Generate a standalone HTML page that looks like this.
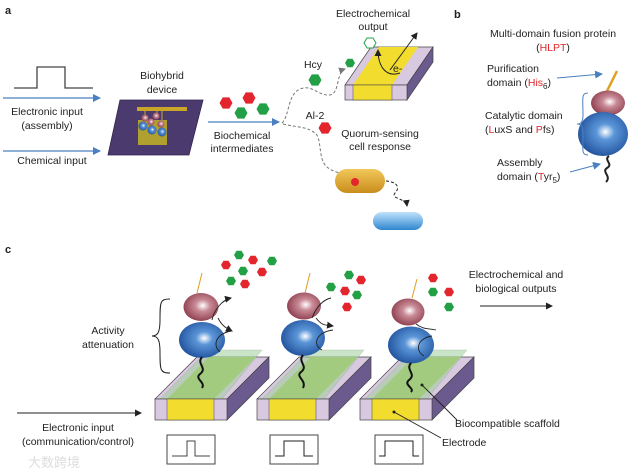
<!DOCTYPE html>
<html><head><meta charset="utf-8"><style>
html,body{margin:0;padding:0;background:#fff;}
svg{display:block;}
text{font-family:"Liberation Sans",sans-serif;font-size:10.5px;fill:#222;}
.b{font-weight:bold;font-size:11px;}
.r{fill:#e0262b;}
</style></head><body>
<svg width="638" height="473" viewBox="0 0 638 473" xmlns="http://www.w3.org/2000/svg">
<defs>
<polygon id="h" points="-6.5,0 -3.3,-5.6 3.3,-5.6 6.5,0 3.3,5.6 -3.3,5.6"/>
<polygon id="hs" points="-5,0 -2.5,-4.3 2.5,-4.3 5,0 2.5,4.3 -2.5,4.3"/>
<radialGradient id="gr" cx="0.55" cy="0.45" r="0.6"><stop offset="0" stop-color="#fff"/><stop offset="0.35" stop-color="#c98a96"/><stop offset="1" stop-color="#8a3a4a"/></radialGradient>
<radialGradient id="gb" cx="0.55" cy="0.45" r="0.6"><stop offset="0" stop-color="#fff"/><stop offset="0.3" stop-color="#5b96d8"/><stop offset="1" stop-color="#1e4f9a"/></radialGradient>
<linearGradient id="go" x1="0" y1="0" x2="0" y2="1"><stop offset="0" stop-color="#f2c75a"/><stop offset="1" stop-color="#c98d1c"/></linearGradient>
<linearGradient id="gc" x1="0" y1="0" x2="0" y2="1"><stop offset="0" stop-color="#bfe3fb"/><stop offset="1" stop-color="#2f86d0"/></linearGradient>
<marker id="ab" markerWidth="8" markerHeight="8" refX="7" refY="4" orient="auto" markerUnits="userSpaceOnUse"><path d="M0,0 L8,4 L0,8 z" fill="#4a7fc0"/></marker>
<marker id="ak" markerWidth="7" markerHeight="7" refX="6" refY="3.5" orient="auto" markerUnits="userSpaceOnUse"><path d="M0,0 L7,3.5 L0,7 z" fill="#222"/></marker>
<marker id="ag" markerWidth="7" markerHeight="7" refX="6" refY="3.5" orient="auto" markerUnits="userSpaceOnUse"><path d="M0,0 L7,3.5 L0,7 z" fill="#777"/></marker>
<g id="blk">
 <polygon points="155,399 227,399 269,357 197,357" fill="#d9c9e0" stroke="#444" stroke-width="0.7"/>
 <polygon points="167,399 214,399 256,357 209,357" fill="#a8c860"/>
 <polygon points="160,399 222,399 262,350 208,350" fill="#9fcf9a" opacity="0.55" stroke="#7a9a7a" stroke-width="0.5"/>
 <polygon points="227,399 269,357 269,378 227,420" fill="#6a5a8e" stroke="#444" stroke-width="0.7"/>
 <rect x="155" y="399" width="72" height="21" fill="#d9c9e0" stroke="#444" stroke-width="0.7"/>
 <rect x="167" y="399" width="47" height="21" fill="#f2dc2e" stroke="#444" stroke-width="0.5"/>
</g>
</defs>

<!-- Panel a -->
<text x="5" y="14" class="b">a</text>
<polyline points="14,88 37,88 37,67 65,67 65,88 93,88" fill="none" stroke="#444" stroke-width="1.3"/>
<line x1="3" y1="98" x2="100" y2="98" stroke="#4a7fc0" stroke-width="1.2" marker-end="url(#ab)"/>
<text x="47" y="115" text-anchor="middle">Electronic input</text>
<text x="47" y="129" text-anchor="middle">(assembly)</text>
<line x1="3" y1="151" x2="100" y2="151" stroke="#4a7fc0" stroke-width="1.2" marker-end="url(#ab)"/>
<text x="52" y="164" text-anchor="middle">Chemical input</text>
<text x="162" y="79" text-anchor="middle">Biohybrid</text>
<text x="162" y="93" text-anchor="middle">device</text>
<polygon points="108,155 120,100 203,100 189,155" fill="#4a3a6e" stroke="#332650" stroke-width="0.8"/>
<rect x="137" y="107" width="50" height="4" fill="#c9a528"/>
<rect x="138" y="120" width="29" height="25" fill="#b0a030"/>
<g stroke="#c9a528" stroke-width="1"><line x1="145" y1="111" x2="145" y2="118"/><line x1="157" y1="111" x2="157" y2="118"/><line x1="162" y1="111" x2="162" y2="120"/></g>
<circle cx="145" cy="118" r="3.5" fill="url(#gr)"/><circle cx="156" cy="116" r="3.5" fill="url(#gr)"/><circle cx="151" cy="122" r="3.5" fill="url(#gr)"/><circle cx="161" cy="124" r="3.5" fill="url(#gr)"/>
<circle cx="143" cy="126" r="4.5" fill="url(#gb)"/><circle cx="152" cy="130" r="4.5" fill="url(#gb)"/><circle cx="162" cy="132" r="4.5" fill="url(#gb)"/>
<use href="#h" x="226" y="103" fill="#e3262d"/><use href="#h" x="249" y="98" fill="#e3262d"/>
<use href="#h" x="241" y="113" fill="#23a046"/><use href="#h" x="263" y="109" fill="#23a046"/>
<line x1="208" y1="122" x2="279" y2="122" stroke="#4a7fc0" stroke-width="1.2" marker-end="url(#ab)"/>
<text x="242" y="139" text-anchor="middle">Biochemical</text>
<text x="242" y="152" text-anchor="middle">intermediates</text>
<text x="313" y="68" text-anchor="middle">Hcy</text>
<use href="#h" x="315" y="80" fill="#23a046"/>
<text x="315" y="119" text-anchor="middle">Al-2</text>
<use href="#h" x="325" y="128" fill="#e3262d"/>
<path d="M282,123 C290,115 287,95 300,89 C312,84 318,96 330,95 C340,93 336,72 345,69" fill="none" stroke="#777" stroke-width="1" stroke-dasharray="3,2" marker-end="url(#ag)"/>
<use href="#hs" x="350" y="63" fill="#23a046"/>
<path d="M283,124 C300,128 305,126 315,133 C322,138 318,158 326,166 C334,174 344,172 350,178" fill="none" stroke="#777" stroke-width="1" stroke-dasharray="3,2" marker-end="url(#ag)"/>
<!-- electrode a -->
<polygon points="345,85 407,85 433,47 371,47" fill="#d9c9e0" stroke="#444" stroke-width="0.7"/>
<polygon points="353,85 392,85 418,47 379,47" fill="#f2dc2e"/>
<polygon points="407,85 433,47 433,62 407,100" fill="#6a5a8e" stroke="#444" stroke-width="0.7"/>
<rect x="345" y="85" width="62" height="15" fill="#d9c9e0" stroke="#444" stroke-width="0.7"/>
<rect x="353" y="85" width="39" height="15" fill="#f2dc2e" stroke="#444" stroke-width="0.5"/>
<text x="373" y="17" text-anchor="middle">Electrochemical</text>
<text x="373" y="30" text-anchor="middle">output</text>
<polygon points="364,43 367,38 373,38 376,43 373,48 367,48" fill="#fff" stroke="#23a046" stroke-width="1"/>
<path d="M400,73 C385,78 378,65 378,50" fill="none" stroke="#222" stroke-width="1" marker-end="url(#ak)"/>
<line x1="390" y1="70" x2="417" y2="33" stroke="#222" stroke-width="1" marker-end="url(#ak)"/>
<text x="393" y="72">e-</text>
<text x="380" y="137" text-anchor="middle">Quorum-sensing</text>
<text x="380" y="150" text-anchor="middle">cell response</text>
<rect x="335" y="169" width="50" height="24" rx="12" fill="url(#go)"/>
<circle cx="355" cy="182" r="4" fill="#e3262d"/>
<path d="M386,181 C398,182 400,188 395,193 C390,199 406,198 407,206" fill="none" stroke="#222" stroke-width="1" stroke-dasharray="3,2" marker-end="url(#ak)"/>
<rect x="373" y="212" width="50" height="18" rx="9" fill="url(#gc)"/>

<!-- Panel b -->
<text x="454" y="18" class="b">b</text>
<text x="553" y="37" text-anchor="middle">Multi-domain fusion protein</text>
<text x="553" y="51" text-anchor="middle"><tspan>(</tspan><tspan class="r">HLPT</tspan><tspan>)</tspan></text>
<text x="487" y="72">Purification</text>
<text x="487" y="86">domain (<tspan class="r">His</tspan><tspan font-size="8" dy="3">6</tspan><tspan dy="-3">)</tspan></text>
<line x1="557" y1="78" x2="602" y2="74" stroke="#4a7fc0" stroke-width="1" marker-end="url(#ab)"/>
<line x1="607" y1="91" x2="617" y2="71" stroke="#e0a020" stroke-width="2.5"/>
<ellipse cx="608" cy="103" rx="17" ry="12.5" fill="url(#gr)"/>
<ellipse cx="603" cy="134" rx="25" ry="22" fill="url(#gb)"/>
<path d="M609,156 C603,160 614,164 607,168 C601,172 612,176 606,182" fill="none" stroke="#222" stroke-width="2"/>
<path d="M588,93 C581,93 583,98 583,115 C583,122 581,124 577,124 C581,124 583,126 583,133 C583,150 581,155 588,155" fill="none" stroke="#4a7fc0" stroke-width="1"/>
<text x="485" y="119">Catalytic domain</text>
<text x="485" y="133">(<tspan class="r">L</tspan>uxS and <tspan class="r">P</tspan>fs)</text>
<text x="497" y="166">Assembly</text>
<text x="497" y="180">domain (<tspan class="r">T</tspan>yr<tspan font-size="8" dy="3">5</tspan><tspan dy="-3">)</tspan></text>
<line x1="570" y1="172" x2="600" y2="164" stroke="#4a7fc0" stroke-width="1" marker-end="url(#ab)"/>

<!-- Panel c -->
<text x="5" y="253" class="b">c</text>
<use href="#blk"/>
<use href="#blk" x="102"/>
<use href="#blk" x="205"/>
<!-- proteins -->
<g>
<line x1="202" y1="273" x2="197" y2="293" stroke="#e0a020" stroke-width="1"/>
<ellipse cx="201" cy="307" rx="17.5" ry="14" fill="url(#gr)"/>
<ellipse cx="202" cy="340" rx="23" ry="18" fill="url(#gb)"/>
<path d="M202,357 C196,364 208,368 200,374 C194,379 206,382 202,388" fill="none" stroke="#111" stroke-width="2"/>
<path d="M212,320 C214,310 222,300 231,298" fill="none" stroke="#222" stroke-width="0.9" marker-end="url(#ak)"/>
<path d="M218,318 C222,326 226,328 232,331" fill="none" stroke="#222" stroke-width="0.9" marker-end="url(#ak)"/>
<path d="M220,352 C212,345 216,334 231,331" fill="none" stroke="#222" stroke-width="0.9"/>
</g>
<g>
<line x1="310" y1="273" x2="305" y2="293" stroke="#e0a020" stroke-width="1"/>
<ellipse cx="304" cy="306" rx="17" ry="13.5" fill="url(#gr)"/>
<ellipse cx="303" cy="338" rx="22" ry="18" fill="url(#gb)"/>
<path d="M303,355 C297,362 309,366 301,372 C295,377 307,380 303,388" fill="none" stroke="#111" stroke-width="2"/>
<path d="M312,318 C316,308 322,300 331,298" fill="none" stroke="#222" stroke-width="0.9"/>
<path d="M316,318 C322,326 326,325 333,326" fill="none" stroke="#222" stroke-width="0.9" marker-end="url(#ak)"/>
<path d="M322,350 C312,345 316,332 333,330" fill="none" stroke="#222" stroke-width="0.9"/>
</g>
<g>
<line x1="417" y1="279" x2="412" y2="298" stroke="#e0a020" stroke-width="1"/>
<ellipse cx="408" cy="312" rx="16.5" ry="13.5" fill="url(#gr)"/>
<ellipse cx="411" cy="345" rx="23" ry="18.5" fill="url(#gb)"/>
<path d="M411,363 C405,370 417,374 409,380 C403,385 415,388 411,392" fill="none" stroke="#111" stroke-width="2"/>
<path d="M416,324 C424,330 428,328 436,330" fill="none" stroke="#222" stroke-width="0.9"/>
<path d="M424,356 C414,350 418,338 432,336" fill="none" stroke="#222" stroke-width="0.9"/>
</g>
<!-- hexes c -->
<g>
<use href="#hs" x="239" y="255" fill="#23a046"/><use href="#hs" x="226" y="265" fill="#e3262d"/>
<use href="#hs" x="253" y="260" fill="#e3262d"/><use href="#hs" x="272" y="261" fill="#23a046"/>
<use href="#hs" x="243" y="271" fill="#23a046"/><use href="#hs" x="262" y="272" fill="#e3262d"/>
<use href="#hs" x="231" y="281" fill="#23a046"/><use href="#hs" x="245" y="284" fill="#e3262d"/>
<use href="#hs" x="349" y="275" fill="#23a046"/><use href="#hs" x="361" y="280" fill="#e3262d"/>
<use href="#hs" x="331" y="287" fill="#23a046"/><use href="#hs" x="345" y="291" fill="#e3262d"/>
<use href="#hs" x="357" y="295" fill="#23a046"/><use href="#hs" x="347" y="307" fill="#e3262d"/>
<use href="#hs" x="433" y="278" fill="#e3262d"/><use href="#hs" x="433" y="292" fill="#23a046"/>
<use href="#hs" x="449" y="292" fill="#e3262d"/><use href="#hs" x="449" y="307" fill="#23a046"/>
</g>
<path d="M170,299 C160,299 160,302 160,320 C160,332 158,336 152,336 C158,336 160,340 160,352 C160,370 160,373 170,373" fill="none" stroke="#222" stroke-width="1"/>
<text x="108" y="334" text-anchor="middle">Activity</text>
<text x="108" y="348" text-anchor="middle">attenuation</text>
<text x="516" y="278" text-anchor="middle">Electrochemical and</text>
<text x="516" y="292" text-anchor="middle">biological outputs</text>
<line x1="480" y1="306" x2="552" y2="306" stroke="#222" stroke-width="1" marker-end="url(#ak)"/>
<line x1="17" y1="413" x2="141" y2="413" stroke="#222" stroke-width="1" marker-end="url(#ak)"/>
<text x="78" y="431" text-anchor="middle">Electronic input</text>
<text x="78" y="445" text-anchor="middle">(communication/control)</text>
<!-- pulse boxes -->
<rect x="167" y="435" width="48" height="29" fill="#fff" stroke="#444" stroke-width="1"/>
<polyline points="172,456 187,456 187,441 195,441 195,456 210,456" fill="none" stroke="#444" stroke-width="1"/>
<rect x="270" y="435" width="48" height="29" fill="#fff" stroke="#444" stroke-width="1"/>
<polyline points="275,456 284,456 284,441 304,441 304,456 313,456" fill="none" stroke="#222" stroke-width="1"/>
<rect x="375" y="435" width="48" height="29" fill="#fff" stroke="#444" stroke-width="1"/>
<polyline points="379,456 385,456 385,441 413,441 413,456 419,456" fill="none" stroke="#222" stroke-width="1"/>
<line x1="422" y1="385" x2="457" y2="420" stroke="#222" stroke-width="0.9"/>
<circle cx="422" cy="385" r="1.5" fill="#222"/>
<text x="455" y="427">Biocompatible scaffold</text>
<line x1="394" y1="412" x2="441" y2="438" stroke="#222" stroke-width="0.9"/>
<circle cx="394" cy="412" r="1.5" fill="#222"/>
<text x="442" y="446">Electrode</text>
<text x="28" y="467" style="font-family:'Liberation Sans','Noto Sans CJK SC',sans-serif;font-size:13px;fill:#ddd">大数跨境</text>
</svg>
</body></html>
